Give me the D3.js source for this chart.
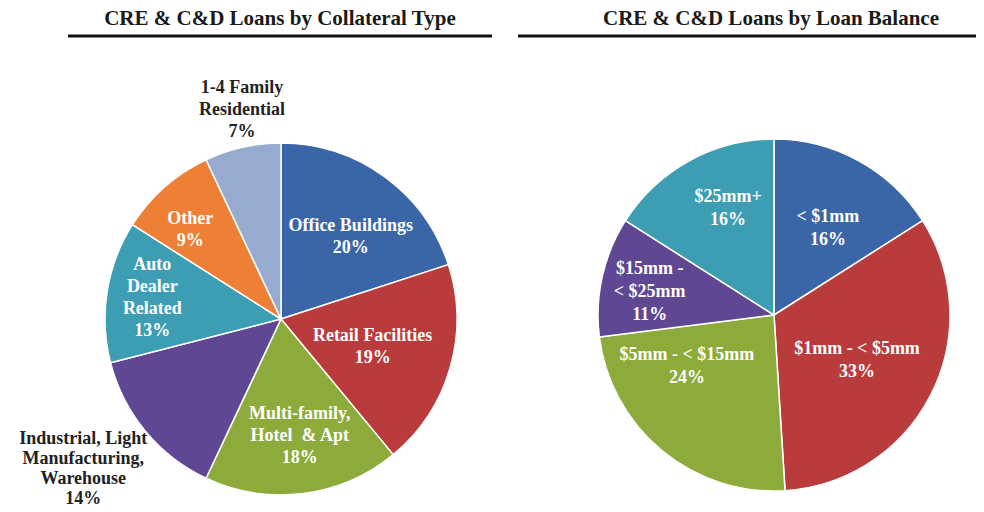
<!DOCTYPE html>
<html>
<head>
<meta charset="utf-8">
<script src="https://cdn.jsdelivr.net/npm/d3@7/dist/d3.min.js"></script>
<style>
  html, body { margin: 0; padding: 0; background: #ffffff; }
  svg { display: block; }
  text { font-family: "Liberation Serif", "Times New Roman", serif; font-weight: bold; white-space: pre; }
</style>
</head>
<body>
<svg id="chart" width="984" height="512"></svg>
<script>
// ---- Collateral type breakdown ----
const collateralCategories = [
  "Office Buildings", "Retail Facilities", "Multi-family, Hotel & Apt",
  "Industrial, Light Manufacturing, Warehouse", "Auto Dealer Related",
  "Other", "1-4 Family Residential"
];
const collateralValues = [20, 19, 18, 14, 13, 9, 7];
const collateralLabelLines = [
  ["Office Buildings"], ["Retail Facilities"], ["Multi-family,", "Hotel  & Apt"],
  ["Industrial, Light", "Manufacturing,", "Warehouse"], ["Auto", "Dealer", "Related"],
  ["Other"], ["1-4 Family", "Residential"]
];

// ---- Loan balance breakdown ----
const balanceCategories = ["< $1mm", "$1mm - < $5mm", "$5mm - < $15mm", "$15mm - < $25mm", "$25mm+"];
const balanceValues = [16, 33, 24, 11, 16];
const balanceLabelLines = [
  ["< $1mm"], ["$1mm - < $5mm"], ["$5mm - < $15mm"], ["$15mm -", "< $25mm"], ["$25mm+"]
];

const titles = ["CRE & C&D Loans by Collateral Type", "CRE & C&D Loans by Loan Balance"];

// Layout settings
const collateralColors = ["#3a66a8", "#ba3b3b", "#8dab3b", "#5f4793", "#3d9db3", "#ee8035", "#97abd1"];
const balanceColors = ["#3a66a8", "#ba3b3b", "#8dab3b", "#5f4793", "#3d9db3"];
// label nudges (px) from the slice centroid at the label radius
const collateralLabelShift = [[5, 6], [-14, -4], [5, 7], [-113, 79], [-20, -5], [-18, -8], [-15, -103]];
const collateralLabelColor = ["#fff", "#fff", "#fff", "#222", "#fff", "#fff", "#222"];
const collateralLineHeight = [22, 22, 22, 20, 22, 22, 22];
const balanceLabelShift = [[1, 9], [-15, -5], [-17, -34], [-17, 0], [7, -11]];

const svg = d3.select("#chart");

function drawPie(cfg) {
  const g = svg.append("g").attr("transform", `translate(${cfg.cx},${cfg.cy})`);
  const pie = d3.pie().sort(null).value(d => d);
  const arcs = pie(cfg.values);
  const arc = d3.arc().innerRadius(0).outerRadius(cfg.r);
  const labelArc = d3.arc().innerRadius(cfg.labelR).outerRadius(cfg.labelR);

  g.selectAll("path.slice")
    .data(arcs)
    .join("path")
    .attr("class", "slice")
    .attr("d", arc)
    .attr("fill", (d, i) => cfg.colors[i])
    .attr("stroke", "#ffffff")
    .attr("stroke-width", 1.5)
    .attr("stroke-linejoin", "round");

  g.selectAll("text.lbl")
    .data(arcs)
    .join("text")
    .attr("class", "lbl")
    .attr("text-anchor", "middle")
    .attr("font-size", cfg.fontSize)
    .attr("fill", (d, i) => cfg.labelColor ? cfg.labelColor[i] : "#fff")
    .each(function (d, i) {
      const [x, y] = labelArc.centroid(d);
      const [dx, dy] = cfg.shift[i];
      const lh = Array.isArray(cfg.lineHeight) ? cfg.lineHeight[i] : cfg.lineHeight;
      const lines = cfg.lines[i].concat([d3.format(".0f")(d.data) + "%"]);
      const t = d3.select(this);
      const n = lines.length;
      lines.forEach((ln, k) => {
        t.append("tspan")
          .attr("x", x + dx)
          .attr("y", y + dy + (k - (n - 1) / 2) * lh + 6)
          .text(ln);
      });
    });
}

// Titles with rule underneath
const titleCfg = [
  { x: 280, x0: 68, x1: 492 },
  { x: 771, x0: 518, x1: 976 }
];
titleCfg.forEach((c, i) => {
  svg.append("text")
    .attr("x", c.x).attr("y", 25)
    .attr("text-anchor", "middle")
    .attr("font-size", 21)
    .attr("fill", "#1a1a1a")
    .text(titles[i]);
  svg.append("line")
    .attr("x1", c.x0).attr("x2", c.x1)
    .attr("y1", 36).attr("y2", 36)
    .attr("stroke", "#111").attr("stroke-width", 3);
});

drawPie({
  cx: 281, cy: 319, r: 176, labelR: 110,
  values: collateralValues, colors: collateralColors,
  lines: collateralLabelLines, shift: collateralLabelShift,
  labelColor: collateralLabelColor,
  fontSize: 18, lineHeight: collateralLineHeight
});

drawPie({
  cx: 774, cy: 315, r: 176, labelR: 110,
  values: balanceValues, colors: balanceColors,
  lines: balanceLabelLines, shift: balanceLabelShift,
  fontSize: 18, lineHeight: 23
});
</script>
</body>
</html>
